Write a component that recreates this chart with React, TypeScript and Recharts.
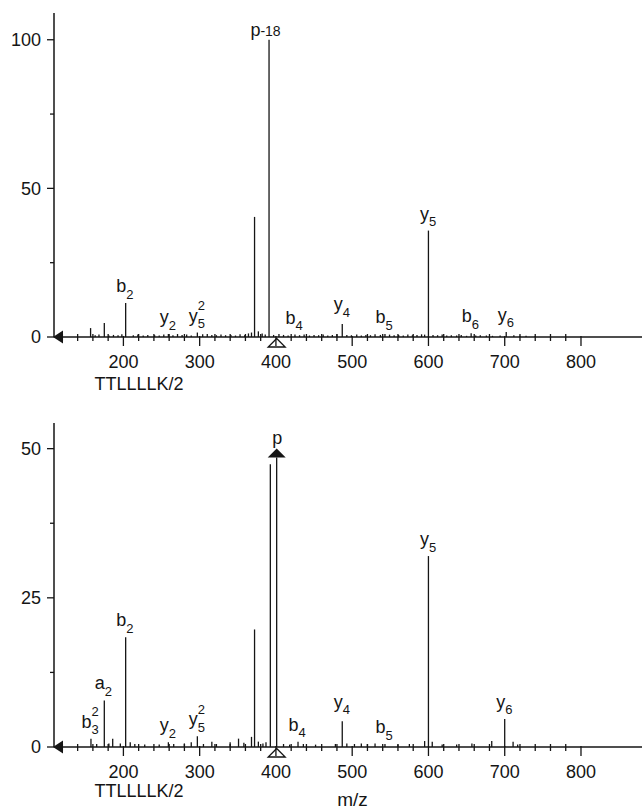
import React from 'react';
import { ComposedChart, Bar, XAxis, YAxis, ReferenceDot } from 'recharts';

const FONT = '"Liberation Sans", Arial, Helvetica, sans-serif';
const INK = '#151515';

// ---------- shared axis data ----------
const xDomain: [number, number] = [109, 880];
const xMajorTicks = [200, 300, 400, 500, 600, 700, 800];
const xMinorTicks = [120, 140, 160, 180, 220, 240, 260, 280, 320, 340, 360, 380, 420, 440, 460, 480, 520, 540, 560, 580, 620, 640, 660, 680, 720, 740, 760, 780];
const precursorMz = 401;
const sequenceLabel = 'TTLLLLK/2';
const xAxisTitle = 'm/z';

// ---------- top spectrum ----------
const topYTicks = [0, 25, 50, 75, 100];
const topYMajor = [0, 50, 100];
const topYMax = 109;
const topPeakMz = [157, 175, 203, 259, 297, 372, 391, 425, 487, 543, 600, 656, 702];
const topPeakIntensity = [3.0, 4.7, 11.4, 1.0, 1.5, 40.4, 100, 0.8, 4.4, 1.0, 35.8, 1.3, 1.7];
const topPeakLabel = ['', '', 'b_2', 'y_2', 'y_5^2', '', 'p-18', 'b_4', 'y_4', 'b_5', 'y_5', 'b_6', 'y_6'];
const topNoiseMz = [163, 168, 181, 187, 193, 198, 213, 219, 226, 232, 241, 247, 253, 265, 271, 277, 283, 289, 304, 310, 316, 322, 328, 334, 341, 347, 353, 359, 364, 368, 377, 382, 386, 397, 404, 410, 416, 431, 437, 444, 450, 456, 462, 468, 474, 480, 493, 499, 506, 512, 518, 524, 530, 537, 549, 555, 561, 567, 573, 579, 585, 591, 595, 606, 612, 618, 624, 630, 637, 643, 650, 662, 668, 676, 684, 694, 712, 720, 728, 740];
const topNoiseIntensity = [0.6, 0.8, 0.5, 0.7, 0.6, 0.9, 0.6, 0.8, 0.5, 0.7, 0.6, 0.5, 0.8, 0.6, 1.0, 0.7, 0.8, 0.5, 0.9, 1.0, 0.7, 0.6, 0.8, 0.6, 0.7, 0.5, 0.9, 0.6, 1.2, 1.5, 1.9, 1.2, 0.8, 0.7, 1.0, 0.7, 0.5, 0.6, 0.8, 0.5, 0.7, 0.6, 0.8, 0.5, 0.7, 0.9, 0.7, 0.6, 0.8, 0.5, 0.7, 0.6, 0.9, 0.7, 0.8, 0.6, 0.7, 0.5, 0.8, 0.6, 0.7, 0.9, 0.8, 0.7, 0.6, 0.8, 0.5, 0.6, 0.5, 0.7, 0.4, 0.5, 0.6, 0.5, 0.4, 0.5, 0.6, 0.4, 0.4, 0.3];

// ---------- bottom spectrum ----------
const bottomYTicks = [0, 12.5, 25, 37.5, 50];
const bottomYMajor = [0, 25, 50];
const bottomYMax = 54.3;
const bottomPeakMz = [157.5, 175, 186, 203, 259, 297, 351, 372, 392.7, 401, 429, 487, 543, 600, 700];
const bottomPeakIntensity = [1.4, 7.8, 1.4, 18.4, 0.8, 1.8, 1.4, 19.7, 47.4, 48.5, 0.9, 4.3, 0.5, 32, 4.7];
const bottomPeakLabel = ['b_3^2', 'a_2', '', 'b_2', 'y_2', 'y_5^2', '', '', '', 'p', 'b_4', 'y_4', 'b_5', 'y_5', 'y_6'];
const bottomNoiseMz = [165, 181, 196, 209, 215, 228, 247, 266, 280, 289, 305, 316, 322, 340, 358, 368, 377, 383, 387, 410, 418, 436, 452, 478, 493, 503, 512, 520, 530, 560, 575, 595, 605, 618, 637, 657, 683, 711, 717];
const bottomNoiseIntensity = [0.5, 0.6, 0.6, 0.8, 0.5, 0.4, 0.4, 0.5, 0.6, 0.8, 0.5, 0.9, 0.5, 0.8, 0.7, 1.7, 0.9, 0.6, 0.8, 0.5, 0.4, 0.5, 0.4, 0.5, 0.6, 0.5, 0.6, 0.5, 0.6, 0.4, 0.5, 1.0, 0.9, 0.4, 0.4, 0.6, 1.0, 0.9, 0.4];

type Row = { mz: number; v: number; label: string };

function buildSpectrum(mz: number[], inten: number[], labels: string[], noiseMz: number[], noiseInt: number[]): Row[] {
  const rows: Row[] = mz.map((m, i) => ({ mz: m, v: inten[i], label: labels[i] }));
  noiseMz.forEach((m, i) => rows.push({ mz: m, v: noiseInt[i], label: '' }));
  rows.sort((a, b) => a.mz - b.mz);
  return rows;
}

const topData = buildSpectrum(topPeakMz, topPeakIntensity, topPeakLabel, topNoiseMz, topNoiseIntensity);
const bottomData = buildSpectrum(bottomPeakMz, bottomPeakIntensity, bottomPeakLabel, bottomNoiseMz, bottomNoiseIntensity);
const xTicks = [...xMajorTicks, ...xMinorTicks].sort((a, b) => a - b);

// label styling (not data)
const labelNudge: Record<string, { dx: number; dy: number }> = {
  'p-18': { dx: -3.5, dy: 7.5 },
  p: { dx: 0.5, dy: -2.5 },
  y_4: { dx: 0, dy: -2.5 },
};

function PeakLabel({ cx, top, label }: { cx: number; top: number; label: string }) {
  const n = labelNudge[label] || { dx: 0, dy: 0 };
  const bx = cx + n.dx;
  const by = top - 11 + n.dy;
  const [head, sup] = label.split('^');
  const [base, sub] = head.split('_');
  if (!sub && !sup) {
    const dash = base.indexOf('-');
    const main = dash >= 0 ? base.slice(0, dash) : base;
    const suffix = dash >= 0 ? base.slice(dash) : '';
    return (
      <text x={bx} y={by} textAnchor="middle" fontFamily={FONT} fontSize={18} fill={INK}>
        {main}
        {suffix ? <tspan fontSize={14}>{suffix}</tspan> : null}
      </text>
    );
  }
  return (
    <g fontFamily={FONT} fill={INK}>
      <text x={bx + 0.5} y={by} textAnchor="end" fontSize={18}>{base}</text>
      {sub ? <text x={bx + 0.5} y={by + 6.5} fontSize={13}>{sub}</text> : null}
      {sup ? <text x={bx + 0.5} y={by - 11.5} fontSize={13}>{sup}</text> : null}
    </g>
  );
}

const PeakShape = (props: any) => {
  const { x, y, width, height, payload } = props;
  if (x == null || y == null) return null;
  const cx = x + width / 2;
  const top = Math.min(y, y + height);
  const bottom = Math.max(y, y + height);
  return (
    <g>
      <line x1={cx} x2={cx} y1={top} y2={bottom} stroke={INK} strokeWidth={1.3} />
      {payload && payload.label ? <PeakLabel cx={cx} top={top} label={payload.label} /> : null}
    </g>
  );
};

const XTick = (props: any) => {
  const { x, y, payload } = props;
  const v = payload.value;
  const major = xMajorTicks.includes(v);
  return (
    <g>
      <line x1={x} x2={x} y1={major ? y - 1 : y - 3} y2={major ? y + 9 : y + 4} stroke={INK} strokeWidth={1.3} />
      {major ? (
        <text x={x} y={y + 31} textAnchor="middle" fontFamily={FONT} fontSize={18} fill={INK}>{v}</text>
      ) : null}
    </g>
  );
};

const makeYTick = (majors: number[]) => (props: any) => {
  const { x, y, payload } = props;
  const v = payload.value;
  const major = majors.includes(v);
  return (
    <g>
      <line x1={x - (major ? 7 : 4)} x2={x} y1={y} y2={y} stroke={INK} strokeWidth={1.3} />
      {major ? (
        <text x={x - 13} y={y + 6.4} textAnchor="end" fontFamily={FONT} fontSize={18} fill={INK}>{v}</text>
      ) : null}
    </g>
  );
};

const LeftArrow = (props: any) => {
  const { cx, cy } = props;
  return <polygon points={`${cx - 1},${cy} ${cx + 9},${cy - 6.5} ${cx + 9},${cy + 6.5}`} fill={INK} />;
};

const HollowTriangle = (props: any) => {
  const { cx, cy } = props;
  return <polygon points={`${cx},${cy + 1.5} ${cx + 8.5},${cy + 10} ${cx - 8.5},${cy + 10}`} fill="#fff" stroke={INK} strokeWidth={1.3} />;
};

const FilledTriangle = (props: any) => {
  const { cx, cy } = props;
  return <polygon points={`${cx},${cy - 9} ${cx + 9},${cy} ${cx - 9},${cy}`} fill={INK} />;
};

type PanelProps = {
  data: Row[];
  yMax: number;
  yTicks: number[];
  yMajor: number[];
  top: number;
  height: number;
  marginTop: number;
  marginBottom: number;
  precursorTop?: number;
};

function SpectrumPanel({ data, yMax, yTicks, yMajor, top, height, marginTop, marginBottom, precursorTop }: PanelProps) {
  const YTick = makeYTick(yMajor);
  return (
    <div style={{ position: 'absolute', left: 0, top, width: 642, height }}>
      <ComposedChart width={642} height={height} data={data} margin={{ top: marginTop, right: 0, bottom: marginBottom, left: 0 }}>
        <XAxis
          dataKey="mz"
          type="number"
          domain={xDomain}
          allowDataOverflow
          ticks={xTicks}
          interval={0}
          tickSize={0}
          tickMargin={0}
          tickLine={false}
          tick={XTick}
          axisLine={{ stroke: INK, strokeWidth: 1.5 }}
          height={30}
        />
        <YAxis
          type="number"
          domain={[0, yMax]}
          allowDataOverflow
          ticks={yTicks}
          interval={0}
          tickSize={0}
          tickMargin={0}
          tickLine={false}
          tick={YTick}
          axisLine={{ stroke: INK, strokeWidth: 1.5 }}
          width={54}
        />
        <Bar dataKey="v" barSize={1} shape={PeakShape} isAnimationActive={false} />
        <ReferenceDot x={xDomain[0]} y={0} ifOverflow="visible" shape={LeftArrow} />
        <ReferenceDot x={precursorMz} y={0} ifOverflow="visible" shape={HollowTriangle} />
        {precursorTop != null ? (
          <ReferenceDot x={precursorMz} y={precursorTop} ifOverflow="visible" shape={FilledTriangle} />
        ) : null}
      </ComposedChart>
    </div>
  );
}

const textStyle: React.CSSProperties = {
  position: 'absolute',
  fontFamily: FONT,
  color: INK,
  whiteSpace: 'nowrap',
};

export default function App() {
  const precursorIdx = bottomPeakLabel.indexOf('p');
  return (
    <div style={{ position: 'absolute', left: 0, top: 0, width: 642, height: 812, background: '#fff', overflow: 'hidden' }}>
      <SpectrumPanel data={topData} yMax={topYMax} yTicks={topYTicks} yMajor={topYMajor} top={0} height={400} marginTop={13} marginBottom={33} />
      <SpectrumPanel
        data={bottomData}
        yMax={bottomYMax}
        yTicks={bottomYTicks}
        yMajor={bottomYMajor}
        top={400}
        height={412}
        marginTop={23}
        marginBottom={35}
        precursorTop={bottomPeakIntensity[precursorIdx]}
      />
      <div style={{ ...textStyle, left: 94.5, top: 374.8, fontSize: 18, lineHeight: '18px' }}>{sequenceLabel}</div>
      <div style={{ ...textStyle, left: 94.5, top: 781.5, fontSize: 18, lineHeight: '18px' }}>{sequenceLabel}</div>
      <div style={{ ...textStyle, left: 302.5, width: 100, textAlign: 'center', top: 790, fontSize: 19, lineHeight: '19px' }}>{xAxisTitle}</div>
    </div>
  );
}
